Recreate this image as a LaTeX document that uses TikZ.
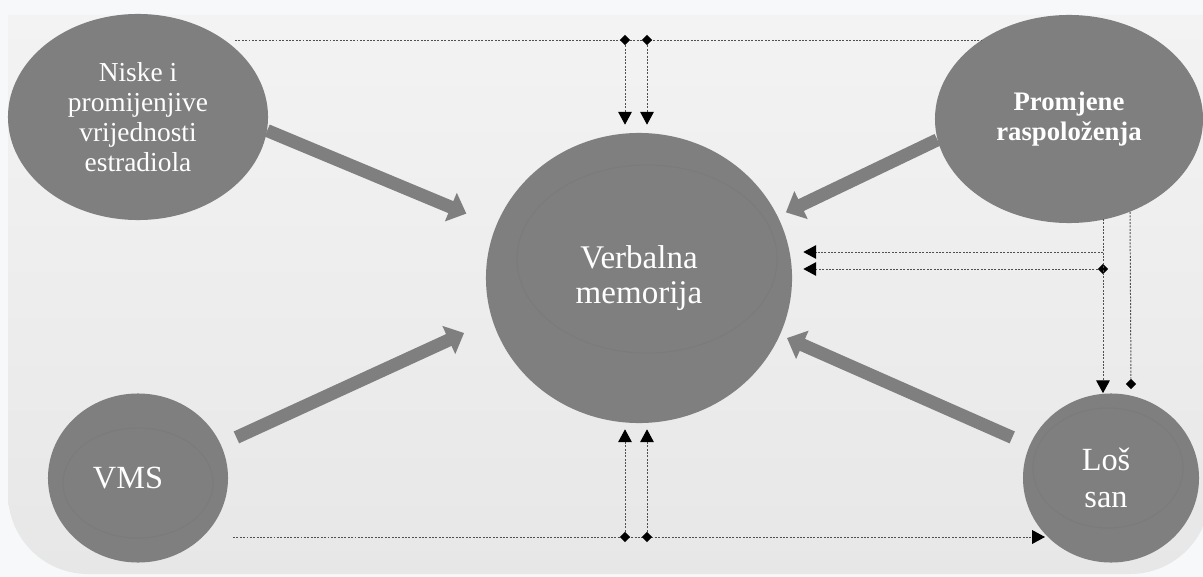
\documentclass[tikz,border=0pt]{standalone}
\usepackage{fontspec}
\setmainfont{Liberation Serif}
\usetikzlibrary{arrows.meta,shapes.geometric}
\definecolor{E}{RGB}{127,127,127}
\definecolor{I}{RGB}{123,123,123}
\definecolor{C}{RGB}{247,248,250}
\definecolor{T}{RGB}{243,243,243}
\definecolor{D}{RGB}{231,231,231}
\definecolor{L}{RGB}{80,80,80}

\begin{document}
\begin{tikzpicture}[x=0.025cm, y=-0.025cm,
  blob/.style={ellipse, fill=E, inner sep=0pt, align=center, text=white},
  fat/.style={E, line width=0.325cm, -{Triangle[length=0.42cm, width=0.75cm]}},
  dots/.style={L, line width=0.7pt, dash pattern=on 1.4pt off 1pt},
  tip/.style={dots, -{Triangle[length=0.32cm, width=0.34cm, black]}},
  dia/.style={diamond, fill=black, inner sep=0pt, minimum size=0.26cm}]
  \useasboundingbox (0,0) rectangle (1203,577);
  % background
  \fill[C] (0,0) rectangle (1203,577);
  \shade[top color=T, bottom color=D] (1210,300) [rounded corners=2cm] -- (1210,574) -- (8,574) -- (8,300) [sharp corners] -- (8,15) -- (1210,15) -- cycle;

  % ellipses
  \node[blob, minimum width=6.5cm, minimum height=5.15cm, font=\fontsize{19.5}{21.3}\selectfont] (estr) at (138,117) {Niske i\\promijenjive\\vrijednosti\\estradiola};
  \node[blob, minimum width=7.65cm, minimum height=7.25cm, font=\fontsize{23.5}{25}\selectfont] (verb) at (639,278) {Verbalna\\memorija};
  \node[blob, minimum width=6.7cm, minimum height=5.2cm, font=\bfseries\fontsize{19}{21.3}\selectfont] (prom) at (1069,119) {Promjene\\raspoloženja};
  \node[blob, minimum width=4.5cm, minimum height=4.225cm, font=\fontsize{23}{26}\selectfont] (vms) at (138,478) {VMS\hspace*{0.5cm}};
  \node[blob, minimum width=4.4cm, minimum height=4.225cm, font=\fontsize{23}{26}\selectfont] (los) at (1111,478) {Loš\hspace*{0.25cm}\\san\hspace*{0.25cm}};
  \draw[I, line width=0.7pt] (647,259) ellipse (3.25cm and 2.35cm);
  \draw[I, line width=0.7pt] (138,483) ellipse (1.875cm and 1.375cm);
  \draw[I, line width=0.7pt] (1108,468) ellipse (1.875cm and 1.5cm);

  % thick arrows
  \draw[fat, shorten >=0.8cm] (estr.-6) -- (verb.160);
  \draw[fat, shorten <=0.425cm, shorten >=0.775cm] (vms.22) -- (verb.196);
  \draw[fat, shorten >=0.225cm] (prom.189) -- (verb.24);
  \draw[fat, shorten <=0.475cm, shorten >=0.19cm] (los.158) -- (verb.-22);

  % dotted links, top
  \coordinate (ta) at (235,40);
  \coordinate (tb) at (982,40);
  \draw[dots] (ta) -- (tb);
  \node[dia] (d1) at (625,40) {};
  \node[dia] (d2) at (647,40) {};
  \draw[tip, shorten >=0.2cm] (d1) -- (d1 |- verb.north);
  \draw[tip, shorten >=0.2cm] (d2) -- (d2 |- verb.north);

  % dotted links, bottom
  \coordinate (ba) at (233,537);
  \coordinate (bb) at (1045,537);
  \draw[tip] (ba) -- (bb);
  \node[dia] (d3) at (625,537) {};
  \node[dia] (d4) at (647,537) {};
  \draw[tip, shorten >=0.15cm] (d3) -- (d3 |- verb.south);
  \draw[tip, shorten >=0.15cm] (d4) -- (d4 |- verb.south);

  % dotted links, right
  \coordinate (ra) at (1103,219);
  \coordinate (rb) at (1130,212);
  \coordinate (rc) at (1103,252);
  \node[dia] (d5) at (1131,384) {};
  \node[dia] (d6) at (1103,269) {};
  \draw[tip] (ra) -- (ra |- los.north);
  \draw[dots] (rb) -- (d5);
  \draw[tip, shorten >=0.275cm] (rc) -- (rc -| verb.east);
  \draw[tip, shorten >=0.275cm] (d6) -- (d6 -| verb.east);
\end{tikzpicture}
\end{document}
